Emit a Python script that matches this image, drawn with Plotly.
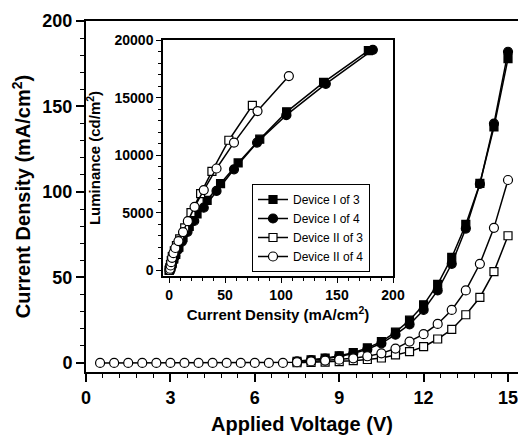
import plotly.graph_objects as go

# ---------------- data ----------------
voltage = [0.5, 1.0, 1.5, 2.0, 2.5, 3.0, 3.5, 4.0, 4.5, 5.0, 5.5, 6.0, 6.5, 7.0, 7.5,
           8.0, 8.5, 9.0, 9.5, 10.0, 10.5, 11.0, 11.5, 12.0, 12.5, 13.0, 13.5, 14.0, 14.5, 15.0]

N = None  # not measured / hidden below the open circles
j_dev1_3 = [N, N, N, N, N, N, N, N, N, N, N, N, N, N, 1.0,
            1.8, 2.8, 4.2, 6.0, 8.8, 12.5, 18.0, 25.0, 34.0, 46.0, 61.7, 81.0, 105.0, 138.0, 178.0]
j_dev1_4 = [N, N, N, N, N, N, N, N, N, N, N, N, N, N, 0.9,
            1.6, 2.5, 3.8, 5.5, 8.0, 11.5, 16.5, 22.5, 31.0, 42.4, 58.0, 78.6, 104.7, 140.0, 182.0]
j_dev2_3 = [N, N, N, N, N, N, N, N, N, N, N, N, N, N, 0.1,
            0.3, 0.5, 0.8, 1.3, 2.0, 2.9, 4.7, 6.6, 9.5, 14.0, 19.6, 28.2, 38.3, 53.4, 74.4]
j_dev2_4 = [0, 0, 0, 0, 0, 0, 0, 0, 0, 0, 0, 0, 0, 0, 0.4,
            0.9, 1.4, 1.9, 2.7, 3.9, 5.6, 8.4, 12.5, 16.8, 22.8, 31.0, 42.4, 58.0, 79.0, 107.0]

# luminance (cd/m2) measured from 7.5 V to 15.0 V
lum_start_v = 7.5
lum_dev1_3 = [130, 300, 600, 1000, 1400, 2030, 2840, 3830, 4900, 6090, 7540, 9330, 11390, 13770, 16320, 19070]
lum_dev1_4 = [100, 250, 500, 850, 1250, 1800, 2500, 3350, 4300, 5450, 6900, 8780, 11100, 13480, 16200, 19150]
lum_dev2_3 = [10, 30, 100, 250, 500, 850, 1200, 1700, 2150, 2750, 3700, 5020, 6670, 8600, 11300, 14320]
lum_dev2_4 = [50, 150, 430, 720, 1100, 1500, 1950, 2550, 3330, 4280, 5520, 6980, 8850, 11100, 13830, 16870]

series_names = ["Device I of 3", "Device I of 4", "Device II of 3", "Device II of 4"]
main_x_ticks = [0, 3, 6, 9, 12, 15]
main_y_ticks = [0, 50, 100, 150, 200]
inset_x_ticks = [0, 50, 100, 150, 200]
inset_y_ticks = [0, 5000, 10000, 15000, 20000]

# ---------------- figure ----------------
FONT = "Arial, 'Liberation Sans', sans-serif"
styles = [
    dict(symbol="square", size=8, color="black"),
    dict(symbol="circle", size=9, color="black"),
    dict(symbol="square", size=8, color="white"),
    dict(symbol="circle", size=9, color="white"),
]
j_all = [j_dev1_3, j_dev1_4, j_dev2_3, j_dev2_4]
lum_all = [lum_dev1_3, lum_dev1_4, lum_dev2_3, lum_dev2_4]
start_idx = voltage.index(lum_start_v)

fig = go.Figure()
for name, j, st in zip(series_names, j_all, styles):
    fig.add_trace(go.Scatter(
        x=voltage, y=j, mode="lines+markers", name=name, showlegend=False,
        line=dict(color="black", width=1.5),
        marker=dict(symbol=st["symbol"], size=st["size"], color=st["color"],
                    line=dict(color="black", width=1.2)),
        cliponaxis=False, xaxis="x", yaxis="y"))

for name, j, lum, st in zip(series_names, j_all, lum_all, styles):
    fig.add_trace(go.Scatter(
        x=j[start_idx:], y=lum, mode="lines+markers", name=name, showlegend=True,
        line=dict(color="black", width=1.5),
        marker=dict(symbol=st["symbol"], size=st["size"], color=st["color"],
                    line=dict(color="black", width=1.2)),
        xaxis="x2", yaxis="y2"))

W, H = 518, 435
L_, R_, T_, B_ = 86, 0, 21, 63
pw, ph = W - L_ - R_, H - T_ - B_

def px_to_dom_x(a, b):
    return [(a - L_) / pw, (b - L_) / pw]

def px_to_dom_y(top, bottom):
    return [(H - B_ - bottom) / ph, (H - B_ - top) / ph]

main_tickfont = dict(family=FONT, size=18, color="black", weight="bold")
inset_tickfont = dict(family=FONT, size=14, color="black", weight="bold")

fig.update_layout(
    width=W, height=H,
    margin=dict(l=L_, r=R_, t=T_, b=B_, pad=0, autoexpand=False),
    paper_bgcolor="white", plot_bgcolor="white",
    font=dict(family=FONT, color="black"),
    xaxis=dict(
        domain=[0, 1], range=[0, 15.355], anchor="y", automargin=False,
        ticklabeloverflow="allow",
        tickvals=main_x_ticks, ticks="outside", ticklen=8, tickwidth=1.5,
        tickcolor="black", showline=True, linecolor="black", linewidth=2,
        mirror=True, showgrid=False, zeroline=False, tickfont=main_tickfont,
        minor=dict(dtick=0.6, ticks="outside", ticklen=4, tickwidth=1.2, tickcolor="black", showgrid=False),
        title=dict(text="Applied Voltage (V)", font=dict(family=FONT, size=20, color="black", weight="bold"), standoff=20),
    ),
    yaxis=dict(
        domain=[0, 1], range=[-5.3, 200], anchor="x", automargin=False,
        ticklabeloverflow="allow",
        tickvals=main_y_ticks, ticks="outside", ticklen=8, tickwidth=1.5,
        tickcolor="black", showline=True, linecolor="black", linewidth=2,
        showgrid=False, zeroline=False, tickfont=main_tickfont,
        minor=dict(dtick=10, ticks="outside", ticklen=4, tickwidth=1.2, tickcolor="black", showgrid=False),
        title=dict(text="Current Density (mA/cm<sup>2</sup>)", font=dict(family=FONT, size=20, color="black", weight="bold"), standoff=6),
    ),
    xaxis2=dict(
        domain=px_to_dom_x(163, 393), range=[-5.4, 200], anchor="y2", automargin=False,
        tickvals=inset_x_ticks, ticks="outside", ticklen=5, tickwidth=1.2,
        tickcolor="black", showline=True, linecolor="black", linewidth=1.5,
        mirror=True, showgrid=False, zeroline=False, tickfont=inset_tickfont,
        minor=dict(dtick=10, ticks="outside", ticklen=3, tickwidth=1, tickcolor="black", showgrid=False),
        title=dict(text="Current Density (mA/cm<sup>2</sup>)", font=dict(family=FONT, size=15, color="black", weight="bold"), standoff=8),
    ),
    yaxis2=dict(
        domain=px_to_dom_y(40, 276), range=[-480, 20000], anchor="x2", automargin=False,
        tickvals=inset_y_ticks, tickformat="d", ticks="outside", ticklen=5, tickwidth=1.2,
        tickcolor="black", showline=True, linecolor="black", linewidth=1.5,
        mirror=True, showgrid=False, zeroline=False, tickfont=inset_tickfont,
        minor=dict(dtick=1000, ticks="outside", ticklen=3, tickwidth=1, tickcolor="black", showgrid=False),
        title=dict(text="Luminance (cd/m<sup>2</sup>)", font=dict(family=FONT, size=15, color="black", weight="bold"), standoff=10),
    ),
    legend=dict(
        x=(252 - L_) / pw, y=(H - B_ - 184) / ph, xanchor="left", yanchor="top",
        bgcolor="white", bordercolor="black", borderwidth=1,
        font=dict(family=FONT, size=12, color="black"),
        itemwidth=30, tracegroupgap=0,
    ),
    showlegend=True,
)

fig.write_html("out.html")
